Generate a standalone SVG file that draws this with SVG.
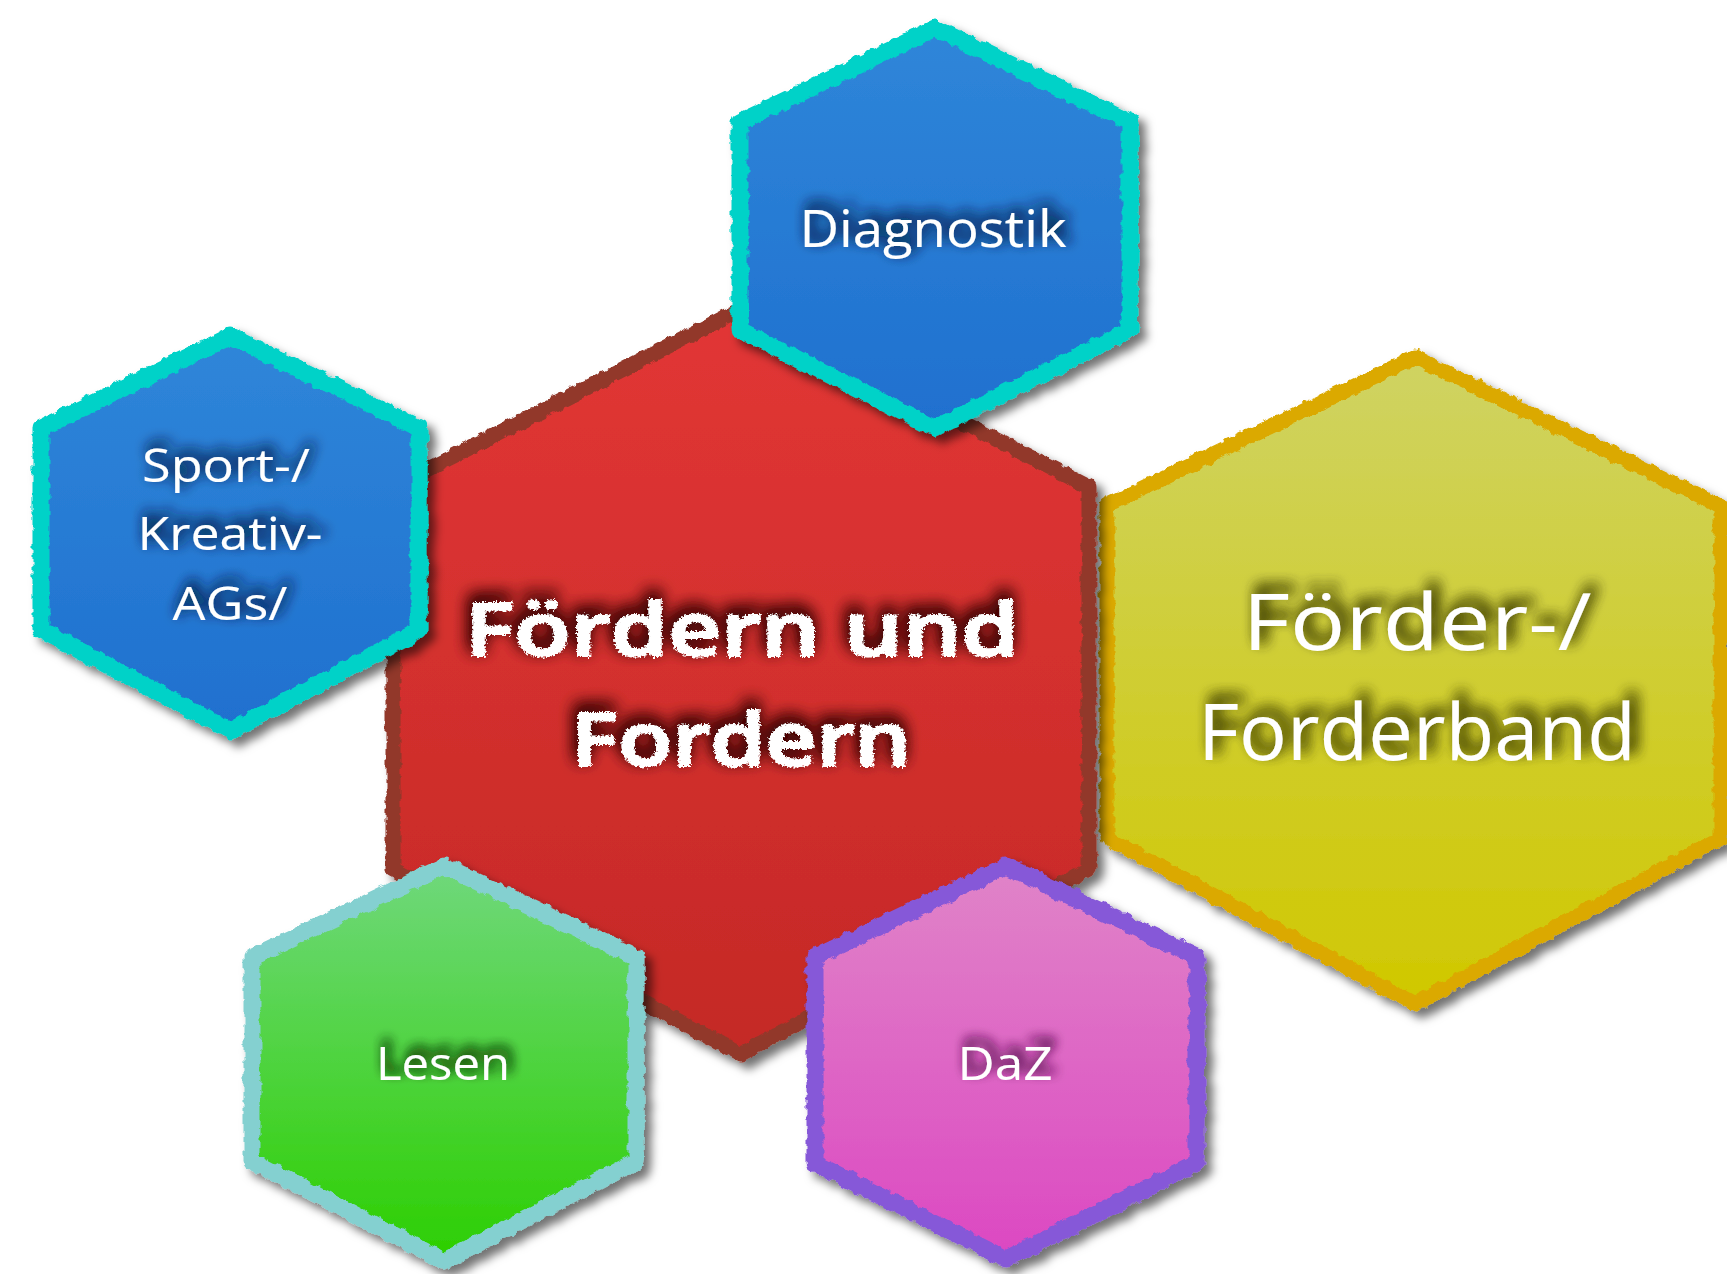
<svg xmlns="http://www.w3.org/2000/svg" width="1727" height="1274" viewBox="0 0 1727 1274">
<defs>
<style>
.lbl{font-family:"Open Sans","DejaVu Sans",sans-serif;fill:#ffffff;text-anchor:middle;}
.chalk{font-family:"Open Sans","DejaVu Sans",sans-serif;font-weight:600;fill:#ffffff;stroke:#ffffff;stroke-width:2;text-anchor:middle;}
.edge{fill:none;stroke-linejoin:round;filter:url(#rough);}
</style>
<linearGradient id="gBlue" x1="0" y1="0" x2="0" y2="1"><stop offset="0" stop-color="#2f86d9"/><stop offset="1" stop-color="#1f70cf"/></linearGradient>
<linearGradient id="gRed" x1="0" y1="0" x2="0" y2="1"><stop offset="0" stop-color="#e23635"/><stop offset="1" stop-color="#c42926"/></linearGradient>
<linearGradient id="gYel" x1="0" y1="0" x2="0" y2="1"><stop offset="0" stop-color="#cfd363"/><stop offset="1" stop-color="#d0c800"/></linearGradient>
<linearGradient id="gGrn" x1="0" y1="0" x2="0" y2="1"><stop offset="0" stop-color="#70d87c"/><stop offset="1" stop-color="#2ccf00"/></linearGradient>
<linearGradient id="gPnk" x1="0" y1="0" x2="0" y2="1"><stop offset="0" stop-color="#e084c8"/><stop offset="1" stop-color="#dc48c2"/></linearGradient>
<filter id="rough" x="-5%" y="-5%" width="110%" height="110%">
<feTurbulence type="fractalNoise" baseFrequency="0.12" numOctaves="2" seed="3" result="n"/>
<feDisplacementMap in="SourceGraphic" in2="n" scale="7" xChannelSelector="R" yChannelSelector="G"/>
</filter>
<filter id="shadow" x="-10%" y="-10%" width="125%" height="125%">
<feDropShadow dx="7" dy="7" stdDeviation="5" flood-color="#000" flood-opacity="0.55"/>
</filter>
<filter id="tsBlue" x="-20%" y="-60%" width="140%" height="220%"><feGaussianBlur in="SourceAlpha" stdDeviation="7"/><feOffset dx="4" dy="-6" result="b"/><feFlood flood-color="#0a2447"/><feComposite in2="b" operator="in" result="s"/><feMerge><feMergeNode in="s"/><feMergeNode in="s"/><feMergeNode in="SourceGraphic"/></feMerge></filter>
<filter id="tsYel" x="-20%" y="-60%" width="140%" height="220%"><feGaussianBlur in="SourceAlpha" stdDeviation="7"/><feOffset dx="6" dy="-8" result="b"/><feFlood flood-color="#454500"/><feComposite in2="b" operator="in" result="s"/><feMerge><feMergeNode in="s"/><feMergeNode in="s"/><feMergeNode in="SourceGraphic"/></feMerge></filter>
<filter id="tsGrn" x="-20%" y="-60%" width="140%" height="220%"><feGaussianBlur in="SourceAlpha" stdDeviation="6"/><feOffset dx="4" dy="-8" result="b"/><feFlood flood-color="#143a0e"/><feComposite in2="b" operator="in" result="s"/><feMerge><feMergeNode in="s"/><feMergeNode in="s"/><feMergeNode in="SourceGraphic"/></feMerge></filter>
<filter id="tsPnk" x="-20%" y="-60%" width="140%" height="220%"><feGaussianBlur in="SourceAlpha" stdDeviation="6"/><feOffset dx="4" dy="-8" result="b"/><feFlood flood-color="#5e1a56"/><feComposite in2="b" operator="in" result="s"/><feMerge><feMergeNode in="s"/><feMergeNode in="s"/><feMergeNode in="SourceGraphic"/></feMerge></filter>
<filter id="tsChalk" x="-20%" y="-60%" width="140%" height="220%">
<feTurbulence type="fractalNoise" baseFrequency="0.45" numOctaves="2" seed="7" result="n"/>
<feDisplacementMap in="SourceGraphic" in2="n" scale="6" xChannelSelector="R" yChannelSelector="G" result="r"/>
<feGaussianBlur in="r" stdDeviation="8"/><feOffset dx="-2" dy="-7" result="b"/><feFlood flood-color="#3a0606"/><feComposite in2="b" operator="in" result="s"/>
<feMerge><feMergeNode in="s"/><feMergeNode in="s"/><feMergeNode in="r"/></feMerge></filter>
</defs>
<rect width="1727" height="1274" fill="#ffffff"/>

<g id="node-forderband" filter="url(#shadow)">
<polygon points="1415,357 1721,507 1721,838 1415,1004 1107,838 1107,505" fill="url(#gYel)"/>
<polygon class="edge" points="1415,357 1721,507 1721,838 1415,1004 1107,838 1107,505" stroke="#dba900" stroke-width="15"/>
<text class="lbl" x="1417" y="650" font-size="78" textLength="349" lengthAdjust="spacingAndGlyphs" filter="url(#tsYel)">Förder-/</text>
<text class="lbl" x="1417" y="760" font-size="78" textLength="438" lengthAdjust="spacingAndGlyphs" filter="url(#tsYel)">Forderband</text>
</g>

<g id="node-center" filter="url(#shadow)">
<polygon points="741,309 1089,487 1089,869 741,1054 393,869 393,487" fill="url(#gRed)"/>
<polygon class="edge" points="741,309 1089,487 1089,869 741,1054 393,869 393,487" stroke="#92392c" stroke-width="15"/>
<text class="chalk" x="742" y="656" font-size="74" textLength="554" lengthAdjust="spacingAndGlyphs" filter="url(#tsChalk)">Fördern und</text>
<text class="chalk" x="741" y="766" font-size="74" textLength="340" lengthAdjust="spacingAndGlyphs" filter="url(#tsChalk)">Fordern</text>
</g>

<g id="node-diagnostik" filter="url(#shadow)">
<polygon points="935,28 1130,122 1130,330 935,428 740,330 740,122" fill="url(#gBlue)"/>
<polygon class="edge" points="935,28 1130,122 1130,330 935,428 740,330 740,122" stroke="#00d2c8" stroke-width="17"/>
<text class="lbl" x="933" y="247" font-size="52" textLength="267" lengthAdjust="spacingAndGlyphs" filter="url(#tsBlue)">Diagnostik</text>
</g>

<g id="node-sport" filter="url(#shadow)">
<polygon points="231,336 419,428 419,630 231,731 41,630 41,428" fill="url(#gBlue)"/>
<polygon class="edge" points="231,336 419,428 419,630 231,731 41,630 41,428" stroke="#00d2c8" stroke-width="17"/>
<text class="lbl" x="226" y="482" font-size="46" textLength="168" lengthAdjust="spacingAndGlyphs" filter="url(#tsBlue)">Sport-/</text>
<text class="lbl" x="230" y="550" font-size="46" textLength="185" lengthAdjust="spacingAndGlyphs" filter="url(#tsBlue)">Kreativ-</text>
<text class="lbl" x="230" y="620" font-size="46" textLength="115" lengthAdjust="spacingAndGlyphs" filter="url(#tsBlue)">AGs/</text>
</g>

<g id="node-lesen" filter="url(#shadow)">
<polygon points="444,866 636,957 636,1161 444,1261 252,1161 252,957" fill="url(#gGrn)"/>
<polygon class="edge" points="444,866 636,957 636,1161 444,1261 252,1161 252,957" stroke="#84d0d0" stroke-width="17"/>
<text class="lbl" x="443" y="1080" font-size="46" textLength="134" lengthAdjust="spacingAndGlyphs" filter="url(#tsGrn)">Lesen</text>
</g>

<g id="node-daz" filter="url(#shadow)">
<polygon points="1006,866 1197,957 1197,1163 1006,1259 815,1163 815,957" fill="url(#gPnk)"/>
<polygon class="edge" points="1006,866 1197,957 1197,1163 1006,1259 815,1163 815,957" stroke="#8658d8" stroke-width="17"/>
<text class="lbl" x="1005" y="1080" font-size="46" textLength="95" lengthAdjust="spacingAndGlyphs" filter="url(#tsPnk)">DaZ</text>
</g>

<g id="connectors"></g>
</svg>
